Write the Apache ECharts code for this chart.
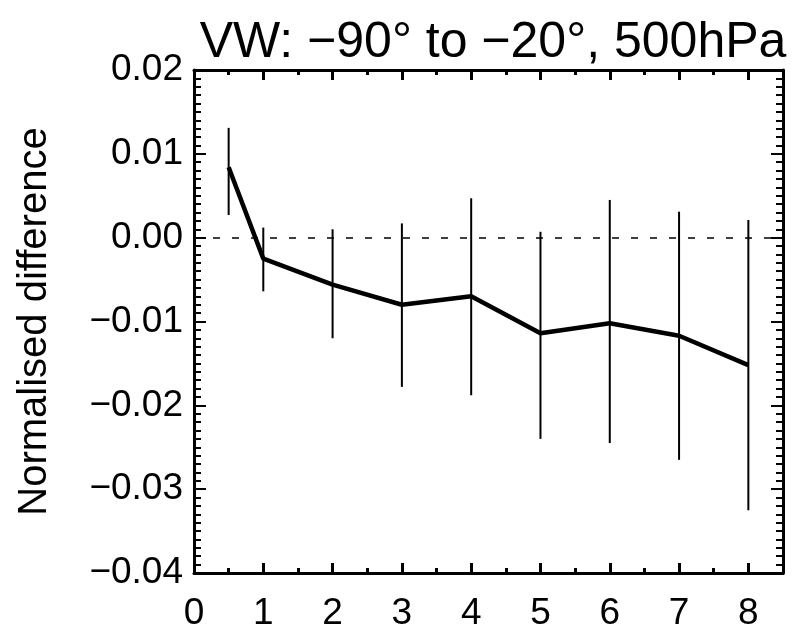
<!DOCTYPE html>
<html>
<head>
<meta charset="utf-8">
<script src="https://cdn.jsdelivr.net/npm/echarts@6/dist/echarts.min.js"></script>
<style>
  html, body { margin: 0; padding: 0; background: #fff; }
  #chart { width: 794px; height: 630px; }
</style>
</head>
<body>
<div id="chart"></div>
<script>
// lead (x) positions, mean normalised difference, and error bar ends
const leads = [0.5, 1, 2, 3, 4, 5, 6, 7, 8]
const means = [0.0084, -0.0025, -0.0056, -0.0080, -0.0070, -0.0114, -0.0102, -0.0117, -0.0152]
const upper = [0.0131, 0.0012, 0.0010, 0.0017, 0.0047, 0.0007, 0.0045, 0.0031, 0.0021]
const lower = [0.0027, -0.0064, -0.0120, -0.0178, -0.0188, -0.0240, -0.0245, -0.0265, -0.0325]

const font = 'Liberation Sans'

const lineData = leads.map((x, i) => [x, means[i]])
const barData = leads.map((x, i) => [x, lower[i], upper[i]])

function fmtY(v) {
  const s = v.toFixed(2)
  return s.replace('-', '\u2212')
}

const frame = { show: true, onZero: false, lineStyle: { color: '#000', width: 3 } }
const noLine = { show: false, onZero: false }

const myChart = echarts.init(document.getElementById('chart'))
myChart.setOption({
  animation: false,
  backgroundColor: '#fff',
  title: {
    text: 'VW: \u221290\u00b0 to \u221220\u00b0, 500hPa',
    left: 488,
    top: 13,
    textAlign: 'center',
    textStyle: { fontFamily: font, fontSize: 50, fontWeight: 'normal', color: '#000' }
  },
  grid: { left: 194, right: 11, top: 70, bottom: 57, outerBoundsMode: 'none', containLabel: false },
  xAxis: [
    { // bottom major
      type: 'value', position: 'bottom', min: 0, max: 8.5, interval: 1,
      axisLine: frame,
      axisTick: { inside: true, length: 10, lineStyle: { color: '#000', width: 3 } },
      axisLabel: { fontFamily: font, fontSize: 37, color: '#000', margin: 22, showMaxLabel: false },
      splitLine: { show: false }
    },
    { // bottom minor
      type: 'value', position: 'bottom', min: 0, max: 8.5, interval: 0.5,
      axisLine: noLine,
      axisTick: { inside: true, length: 5, lineStyle: { color: '#000', width: 3 } },
      axisLabel: { show: false },
      splitLine: { show: false }
    },
    { // top major
      type: 'value', position: 'top', min: 0, max: 8.5, interval: 1,
      axisLine: frame,
      axisTick: { inside: true, length: 10, lineStyle: { color: '#000', width: 3 } },
      axisLabel: { show: false },
      splitLine: { show: false }
    },
    { // top minor
      type: 'value', position: 'top', min: 0, max: 8.5, interval: 0.5,
      axisLine: noLine,
      axisTick: { inside: true, length: 5, lineStyle: { color: '#000', width: 3 } },
      axisLabel: { show: false },
      splitLine: { show: false }
    }
  ],
  yAxis: [
    {
      type: 'value', position: 'left', min: -0.04, max: 0.02, interval: 0.01,
      name: 'Normalised difference',
      nameLocation: 'middle',
      nameGap: 139,
      nameTextStyle: { fontFamily: font, fontSize: 40, color: '#000' },
      axisLine: frame,
      axisTick: { inside: true, length: 12, lineStyle: { color: '#000', width: 2 } },
      minorTick: { show: true, splitNumber: 10, length: 7, lineStyle: { color: '#000', width: 2 } },
      axisLabel: { fontFamily: font, fontSize: 37, color: '#000', margin: 11, formatter: fmtY },
      splitLine: { show: false }
    },
    {
      type: 'value', position: 'right', min: -0.04, max: 0.02, interval: 0.01,
      axisLine: frame,
      axisTick: { inside: true, length: 12, lineStyle: { color: '#000', width: 2 } },
      minorTick: { show: true, splitNumber: 10, length: 7, lineStyle: { color: '#000', width: 2 } },
      axisLabel: { show: false },
      splitLine: { show: false }
    }
  ],
  series: [
    {
      type: 'custom',
      xAxisIndex: 0,
      yAxisIndex: 0,
      data: barData,
      renderItem: function (params, api) {
        const p1 = api.coord([api.value(0), api.value(1)])
        const p2 = api.coord([api.value(0), api.value(2)])
        return {
          type: 'line',
          shape: { x1: p1[0], y1: p1[1], x2: p2[0], y2: p2[1] },
          style: { stroke: '#000', lineWidth: 2 }
        }
      },
      z: 2
    },
    {
      type: 'line',
      xAxisIndex: 0,
      yAxisIndex: 0,
      data: lineData,
      showSymbol: false,
      symbol: 'none',
      lineStyle: { color: '#000', width: 4.5 },
      markLine: {
        silent: true,
        symbol: 'none',
        label: { show: false },
        lineStyle: { color: '#000', width: 1.5, type: [7, 12] },
        data: [{ yAxis: 0 }]
      },
      z: 3
    }
  ]
})
</script>
</body>
</html>
